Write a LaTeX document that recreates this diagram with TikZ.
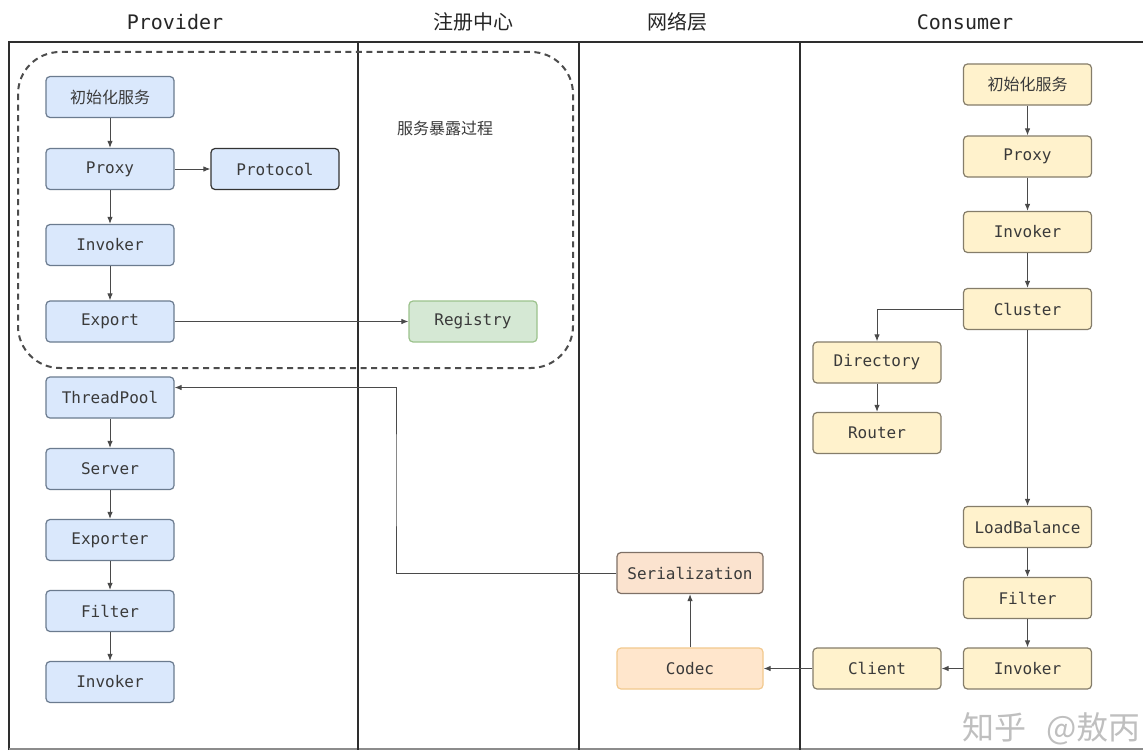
\documentclass[tikz,border=0pt]{standalone}
\usepackage{fontspec}
\setmonofont{DejaVu Sans Mono}
\newfontfamily\cjk{Noto Sans CJK SC}
\usetikzlibrary{arrows.meta}

\definecolor{frameline}{HTML}{2E2E2E}
\definecolor{txt}{HTML}{3A3A3A}
\definecolor{flowline}{HTML}{4A4A4A}
\definecolor{pfill}{HTML}{DAE8FC}
\definecolor{pdraw}{HTML}{6B7B8F}
\definecolor{gfill}{HTML}{D5E8D4}
\definecolor{gdraw}{HTML}{9CC28C}
\definecolor{cfill}{HTML}{FFF2CC}
\definecolor{cdraw}{HTML}{857D6A}
\definecolor{sfill}{HTML}{FBE3CF}
\definecolor{sdraw}{HTML}{7E7066}
\definecolor{ofill}{HTML}{FFE6CC}
\definecolor{odraw}{HTML}{F2C98E}

\tikzset{
  box/.style={rectangle, rounded corners=4pt, minimum width=128pt,
    minimum height=41pt, inner sep=0pt, line width=1.2pt, text=txt,
    font=\ttfamily\fontsize{16}{16}\selectfont},
  pbox/.style={box, fill=pfill, draw=pdraw},
  gbox/.style={box, fill=gfill, draw=gdraw},
  cbox/.style={box, fill=cfill, draw=cdraw},
  sbox/.style={box, minimum width=146pt, fill=sfill, draw=sdraw},
  obox/.style={box, minimum width=146pt, fill=ofill, draw=odraw},
  zh/.style={font=\cjk\fontsize{16}{16}\selectfont},
  flow/.style={draw=flowline, line width=1pt, -{Latex[length=7pt,width=5.5pt]}},
  frame/.style={draw=frameline, line width=1.8pt},
  header/.style={text=black!85, inner sep=0pt},
}

\begin{document}
\begin{tikzpicture}[x=1pt, y=-1pt]
\useasboundingbox (0,0) rectangle (1143,752);
\fill[white] (0,0) rectangle (1143,752);

% lane frame
\draw[frame] (9,750) -- (9,42) -- (1143,42);
\draw[draw=black!45, line width=1.2pt] (9,749) -- (1143,749);
\draw[frame] (358,42) -- (358,750);
\draw[frame] (579,42) -- (579,750);
\draw[frame] (800,42) -- (800,750);

% lane titles
\node[header, font=\ttfamily\fontsize{20}{20}\selectfont] (hprov) at (175,22) {Provider};
\node[header, font=\cjk\fontsize{20}{20}\selectfont] (hreg) at (473,22) {注册中心};
\node[header, font=\cjk\fontsize{20}{20}\selectfont] (hnet) at (677,22) {网络层};
\node[header, font=\ttfamily\fontsize{20}{20}\selectfont] (hcons) at (965,22) {Consumer};

% service export group
\draw[draw=black!70, line width=2pt, dash pattern=on 6pt off 4.5pt, rounded corners=42pt]
  (18,52) rectangle (573,368);
\node[text=txt, font=\cjk\fontsize{16}{16}\selectfont] (expose) at (445,128) {服务暴露过程};

% provider side
\node[pbox, zh] (pinit) at (110,97) {初始化服务};
\node[pbox] (pproxy) at (110,169) {Proxy};
\node[pbox, draw=black!80] (pproto) at (275,169) {Protocol};
\node[pbox] (pinv) at (110,245) {Invoker};
\node[pbox] (pexport) at (110,321.5) {Export};
\node[gbox] (registry) at (473,321.5) {Registry};
\node[pbox] (tpool) at (110,397.5) {ThreadPool};
\node[pbox] (server) at (110,469) {Server};
\node[pbox] (exporter) at (110,540) {Exporter};
\node[pbox] (pfilter) at (110,611) {Filter};
\node[pbox] (pinv2) at (110,682) {Invoker};

% network layer
\node[sbox] (serial) at (690,573) {Serialization};
\node[obox] (codec) at (690,668.5) {Codec};

% consumer side
\node[cbox, zh] (cinit) at (1027.5,84.5) {初始化服务};
\node[cbox] (cproxy) at (1027.5,156.5) {Proxy};
\node[cbox] (cinv) at (1027.5,232) {Invoker};
\node[cbox] (cluster) at (1027.5,309) {Cluster};
\node[cbox] (directory) at (877,362.5) {Directory};
\node[cbox] (router) at (877,433) {Router};
\node[cbox] (lbal) at (1027.5,527) {LoadBalance};
\node[cbox] (cfilter) at (1027.5,598) {Filter};
\node[cbox] (cinv2) at (1027.5,668.5) {Invoker};
\node[cbox] (client) at (877,668.5) {Client};

% provider flow
\draw[flow] (pinit) -- (pproxy);
\draw[flow] (pproxy) -- (pproto);
\draw[flow] (pproxy) -- (pinv);
\draw[flow] (pinv) -- (pexport);
\draw[flow] (pexport) -- (registry);
\draw[flow] (tpool) -- (server);
\draw[flow] (server) -- (exporter);
\draw[flow] (exporter) -- (pfilter);
\draw[flow] (pfilter) -- (pinv2);

% network flow back to the provider
\coordinate (netbend) at (396,480);
\draw[flow] (serial.west) -| (netbend) |- ([yshift=10pt]tpool.east);
\draw[flow] (codec) -- (serial);

% consumer flow
\draw[flow] (cinit) -- (cproxy);
\draw[flow] (cproxy) -- (cinv);
\draw[flow] (cinv) -- (cluster);
\draw[flow] (cluster.west) -| (directory.north);
\draw[flow] (directory) -- (router);
\draw[flow] (cluster) -- (lbal);
\draw[flow] (lbal) -- (cfilter);
\draw[flow] (cfilter) -- (cinv2);
\draw[flow] (cinv2) -- (client);
\draw[flow] (client) -- (codec);

% watermark, running off the right edge
\node[anchor=west, inner sep=0pt, text=black!25, font=\cjk\fontsize{32}{32}\selectfont] (mark) at (962,729) {知乎\hspace{20pt}@敖丙};
\end{tikzpicture}
\end{document}
